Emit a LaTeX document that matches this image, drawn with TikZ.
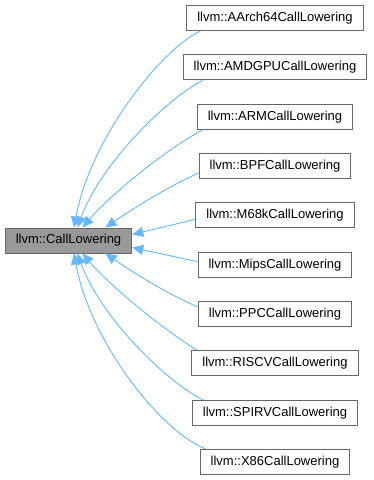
\documentclass[tikz,border=0pt]{standalone}
\usepackage{fontspec}
\setmainfont{Liberation Sans}
\usetikzlibrary{arrows.meta,calc}

\definecolor{edgeblue}{HTML}{63B8FF}
\definecolor{boxline}{HTML}{666666}
\definecolor{basefill}{HTML}{999999}

\tikzset{
  cls/.style={draw=boxline, line width=1pt, fill=white, text=black,
    font=\fontsize{13}{15}\selectfont, inner xsep=10.5pt, inner ysep=0pt,
    minimum height=25pt, anchor=center},
  basecls/.style={cls, fill=basefill},
  inherit/.style={draw=edgeblue, line width=0.9pt,
    -{Triangle[length=11pt,width=10pt]}},
}

\begin{document}
\begin{tikzpicture}[x=1pt, y=-1pt]
  \useasboundingbox (0,0) rectangle (374,480);

  % base class
  \node[basecls] (base) at (68.5,240.5) {llvm::CallLowering};

  % derived classes
  \node[cls] (r1)  at (275,18)    {llvm::AArch64CallLowering};
  \node[cls] (r2)  at (275,67.3)  {llvm::AMDGPUCallLowering};
  \node[cls] (r3)  at (275,116.7) {llvm::ARMCallLowering};
  \node[cls] (r4)  at (275,166)   {llvm::BPFCallLowering};
  \node[cls] (r5)  at (275,215.3) {llvm::M68kCallLowering};
  \node[cls] (r6)  at (275,264.7) {llvm::MipsCallLowering};
  \node[cls] (r7)  at (275,314)   {llvm::PPCCallLowering};
  \node[cls] (r8)  at (275,363.3) {llvm::RISCVCallLowering};
  \node[cls] (r9)  at (275,412.7) {llvm::SPIRVCallLowering};
  \node[cls] (r10) at (275,462)   {llvm::X86CallLowering};

  % inheritance edges, arrow tips on the base class
  \draw[inherit] ($(r1.south west)+(14,0)$) .. controls (160,50) and (90,140) .. ($(base.north)+(5.5,0)$);
  \draw[inherit] ($(r2.south west)+(20,0)$) .. controls (165,100) and (100,165) .. ($(base.north)+(9,0)$);
  \draw[inherit] ($(r3.south west)+(6,0)$) .. controls (165,150) and (110,195) .. ($(base.north)+(14,0)$);
  \draw[inherit] ($(r4.west)+(0,7)$) .. controls (165,188) and (128,212) .. ($(base.north)+(37,0)$);
  \draw[inherit] ($(r5.west)+(0,4)$) -- ($(base.east)+(0,-6)$);
  \draw[inherit] ($(r6.west)+(0,-3)$) -- ($(base.east)+(0,7)$);
  \draw[inherit] ($(r7.west)+(0,-7)$) .. controls (165,293) and (128,269) .. ($(base.south)+(37,0)$);
  \draw[inherit] ($(r8.north west)+(6,0)$) .. controls (165,331) and (110,286) .. ($(base.south)+(14,0)$);
  \draw[inherit] ($(r9.north west)+(11,0)$) .. controls (165,381) and (100,316) .. ($(base.south)+(9,0)$);
  \draw[inherit] ($(r10.north west)+(6,0)$) .. controls (160,431) and (90,341) .. ($(base.south)+(5.5,0)$);
\end{tikzpicture}
\end{document}
